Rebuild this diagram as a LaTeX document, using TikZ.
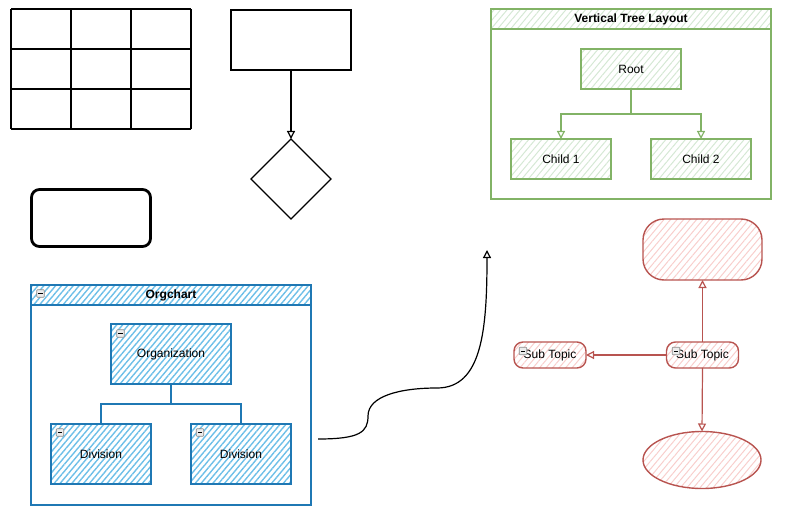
\documentclass[tikz,border=0pt]{standalone}
\usepackage{fontspec}
\setmainfont{Liberation Sans}
\usetikzlibrary{positioning,shapes.geometric,patterns.meta,arrows.meta}
\definecolor{OrgBlue}{HTML}{1F78B4}
\definecolor{OrgFill}{HTML}{6DBFE8}
\definecolor{TreeGreen}{HTML}{82B366}
\definecolor{TreeFill}{HTML}{D5E8D4}
\definecolor{MindRed}{HTML}{B85450}
\definecolor{MindFill}{HTML}{F8CECC}
\definecolor{IconGray}{HTML}{8A8A8A}

\begin{document}
\begin{tikzpicture}[x=1pt,y=-1pt,font=\fontsize{12}{14}\selectfont,
    every node/.style={inner sep=0pt,outer sep=0pt},
    gridline/.style={black,line width=1.6pt},
    plainbox/.style={draw=black,line width=1.2pt,minimum width=120pt,minimum height=60pt},
    roundbox/.style={draw=black,line width=2.8pt,rounded corners=8pt,minimum width=119pt,minimum height=57pt},
    decision/.style={draw=black,line width=1.2pt,diamond,minimum width=80pt,minimum height=80pt},
    openarrow/.style={-{Triangle[open,length=8pt,width=8pt]}},
    orgframe/.style={draw=OrgBlue,line width=1.3pt,minimum width=280pt,minimum height=220pt},
    orghead/.style={draw=OrgBlue,line width=1.3pt,minimum width=280pt,minimum height=20pt,
      pattern={Lines[angle=50,distance=4.5pt,line width=1.4pt]},pattern color=OrgFill,font=\fontsize{12}{14}\selectfont\bfseries},
    orgbox/.style={draw=OrgBlue,line width=1.3pt,
      pattern={Lines[angle=50,distance=4.5pt,line width=1.4pt]},pattern color=OrgFill},
    orgline/.style={draw=OrgBlue,line width=1.2pt},
    treeframe/.style={draw=TreeGreen,line width=1.3pt,minimum width=280pt,minimum height=190pt},
    treehead/.style={draw=TreeGreen,line width=1.3pt,minimum width=280pt,minimum height=20pt,
      pattern={Lines[angle=50,distance=5pt,line width=1pt]},pattern color=TreeFill,font=\fontsize{12}{14}\selectfont\bfseries},
    treebox/.style={draw=TreeGreen,line width=1.3pt,minimum width=100pt,minimum height=40pt,
      pattern={Lines[angle=50,distance=5pt,line width=1pt]},pattern color=TreeFill},
    treeline/.style={draw=TreeGreen,line width=1.2pt},
    mindshape/.style={draw=MindRed,line width=1.4pt,
      pattern={Lines[angle=50,distance=5pt,line width=1pt]},pattern color=MindFill},
    mindsub/.style={mindshape,rounded corners=9pt,minimum width=72pt,minimum height=26pt},
    mindline/.style={draw=MindRed,line width=1.2pt},
    minusbox/.style={draw=IconGray,fill=gray!15,line width=0.6pt,minimum size=7.5pt,rounded corners=0.8pt,
      path picture={\draw[black,line width=0.8pt] ([xshift=1.6pt]path picture bounding box.west) -- ([xshift=-1.6pt]path picture bounding box.east);}}]
  \useasboundingbox (0,0) rectangle (786,513);

  % table grid
  \foreach \gx in {11,71,131,191}
    \draw[gridline] (\gx,9) -- (\gx,129);
  \foreach \gy in {9,49,89,129}
    \draw[gridline] (11,\gy) -- (191,\gy);

  % process and decision
  \node[plainbox] (process) at (291,40) {};
  \node[decision] (choice) at (291,179) {};
  \draw[line width=1.2pt,openarrow] (process.south) -- (choice.north);

  \node[roundbox] (term) at (91,218) {};

  % orgchart container
  \node[orgframe] (orgchart) at (171,395) {};
  \node[orghead] (orghead) at (171,295) {Orgchart};
  \node[orgbox,minimum width=120pt,minimum height=60pt] (org) at (171,354) {Organization};
  \node[orgbox,minimum width=100pt,minimum height=60pt] (divleft) at (101,454) {Division};
  \node[orgbox,minimum width=100pt,minimum height=60pt] (divright) at (241,454) {Division};
  \draw[orgline] (org.south) -- ++(0,20) -| (divleft.north);
  \draw[orgline] (org.south) -- ++(0,20) -| (divright.north);
  \node[minusbox] (iconhead) at (40.5,293.5) {};
  \node[minusbox] (iconorg) at (120.5,333.5) {};
  \node[minusbox] (icondivl) at (60,432.5) {};
  \node[minusbox] (icondivr) at (200,432.5) {};

  % free curve
  \coordinate (curvestart) at (318,439);
  \coordinate (curveend) at (487,250);
  \draw[line width=1.2pt,openarrow] (curvestart) .. controls (360,439) and (368,432) .. (368,416)
    .. controls (368,396) and (400,388) .. (437,388)
    .. controls (482,388) and (487,330) .. (curveend);

  % vertical tree
  \node[treeframe] (tree) at (631,104) {};
  \node[treehead] (treehead) at (631,19) {Vertical Tree Layout};
  \node[treebox] (root) at (631,69) {Root};
  \node[treebox] (childone) at (561,159) {Child 1};
  \node[treebox] (childtwo) at (701,159) {Child 2};
  \draw[treeline,openarrow] (root.south) -- ++(0,25) -| (childone.north);
  \draw[treeline,openarrow] (root.south) -- ++(0,25) -| (childtwo.north);

  % mind map
  \node[mindshape,rounded corners=21pt,minimum width=119pt,minimum height=61pt] (idea) at (702.5,249.5) {};
  \node[mindsub] (topic) at (702.5,355) {Sub Topic};
  \node[mindsub] (topicleft) at (550,355) {Sub Topic};
  \node[mindshape,ellipse,minimum width=118pt,minimum height=57pt] (cloud) at (702,460) {};
  \draw[mindline,openarrow] (topic.north) -- (idea.south);
  \draw[mindline,openarrow] (topic.west) -- (topicleft.east);
  \draw[mindline,openarrow] (topic.south) -- (cloud.north);
  \node[minusbox] (icontopic) at (676,351) {};
  \node[minusbox] (icontopicl) at (523,351) {};
\end{tikzpicture}
\end{document}
